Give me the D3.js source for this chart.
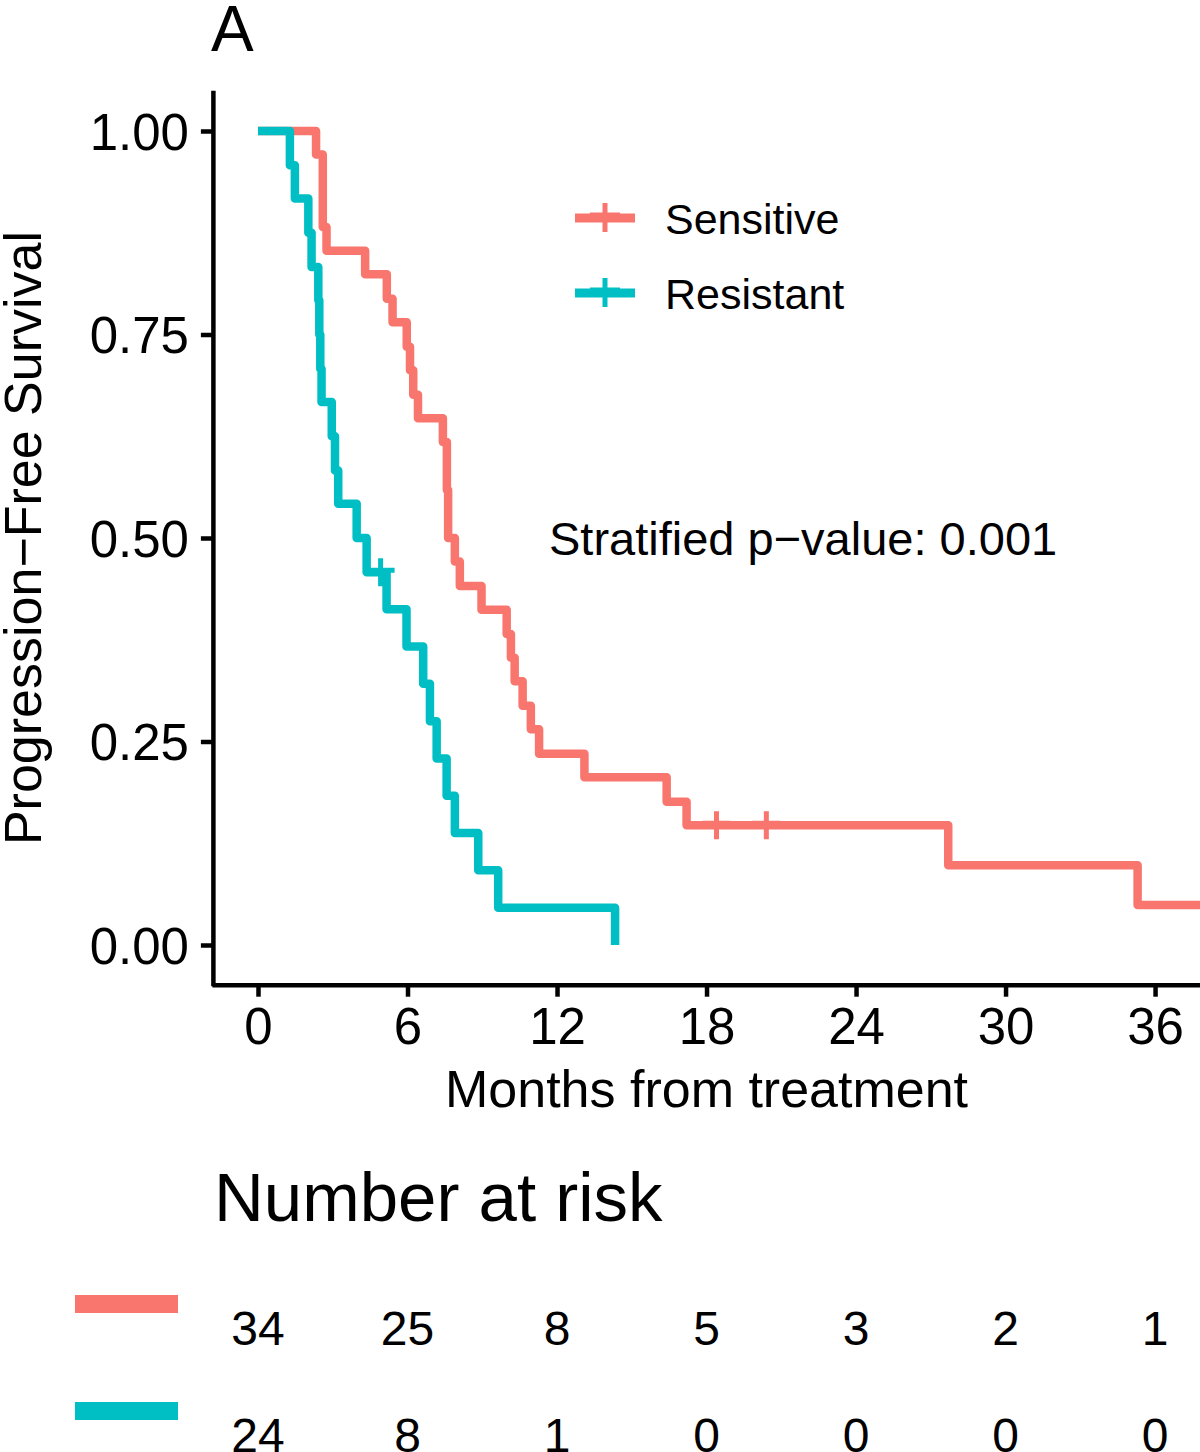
<!DOCTYPE html>
<html>
<head>
<meta charset="utf-8">
<script src="https://cdn.jsdelivr.net/npm/d3@7"></script>
<style>
  html, body { margin: 0; padding: 0; background: #fff; }
  svg { display: block; }
  text { font-family: "Liberation Sans", Arial, Helvetica, sans-serif; fill: #000; }
</style>
</head>
<body>
<svg id="chart" width="1200" height="1452"></svg>
<script>
// ---------------- DATA ----------------
const groups = ["Sensitive", "Resistant"];
const groupColors = ["#F8766D", "#00BFC4"];

// Kaplan–Meier step points (time in months, survival after the step)
const sensitiveTime = [0, 2.33, 2.6, 2.75, 4.3, 5.17, 5.4, 5.97, 6.1, 6.23, 6.42, 7.42, 7.58, 7.63, 7.9, 8.1, 8.97, 9.98, 10.15, 10.3, 10.62, 10.95, 11.28, 13.1, 16.4, 17.2, 27.7, 35.3, 37.9];
const sensitiveSurv = [1.000, 0.971, 0.882, 0.853, 0.824, 0.794, 0.765, 0.735, 0.706, 0.676, 0.647, 0.618, 0.559, 0.500, 0.471, 0.441, 0.412, 0.382, 0.353, 0.324, 0.294, 0.265, 0.235, 0.206, 0.176, 0.147, 0.098, 0.049, 0.049];
const sensitiveCensorTime = [18.4, 20.4];
const sensitiveCensorSurv = [0.147, 0.147];

const resistantTime = [0, 1.28, 1.48, 2.02, 2.15, 2.42, 2.46, 2.5, 2.55, 2.96, 3.09, 3.22, 3.96, 4.36, 5.16, 5.96, 6.63, 6.9, 7.17, 7.57, 7.9, 8.84, 9.64, 14.33];
const resistantSurv = [1.000, 0.958, 0.917, 0.875, 0.833, 0.792, 0.750, 0.708, 0.667, 0.625, 0.583, 0.542, 0.500, 0.458, 0.4125, 0.3667, 0.3208, 0.275, 0.2292, 0.1833, 0.1375, 0.0917, 0.0458, 0.000];
const resistantCensorTime = [4.92];
const resistantCensorSurv = [0.458];

const xTicks = [0, 6, 12, 18, 24, 30, 36];
const yTicks = [0, 0.25, 0.50, 0.75, 1.00];
const riskSensitive = [34, 25, 8, 5, 3, 2, 1];
const riskResistant = [24, 8, 1, 0, 0, 0, 0];

const panelLabel = "A";
const xTitle = "Months from treatment";
const yTitle = "Progression\u2212Free Survival";
const pText = "Stratified p\u2212value: 0.001";
const riskTitle = "Number at risk";

// ---------------- LAYOUT ----------------
const svg = d3.select("#chart");
svg.append("rect").attr("width", 1200).attr("height", 1452).attr("fill", "#fff");

const x = d3.scaleLinear().domain([-1.85, 39.75]).range([211.9, 1248.5]);
const y = d3.scaleLinear().domain([-0.05, 1.05]).range([985.7, 90.3]);

// Axes
const axisW = 4.5;
const gx = svg.append("g").attr("transform", `translate(0,${y(-0.05) - 1})`)
  .call(d3.axisBottom(x).tickValues(xTicks).tickSize(12).tickSizeOuter(0).tickPadding(8));
const gy = svg.append("g").attr("transform", `translate(${x(-1.85) + 1},0)`)
  .call(d3.axisLeft(y).tickValues(yTicks).tickFormat(d3.format(".2f")).tickSize(12).tickSizeOuter(0).tickPadding(12));

[gx, gy].forEach(g => {
  g.select(".domain").attr("stroke", "#000").attr("stroke-width", axisW);
  g.selectAll(".tick line").attr("stroke", "#000").attr("stroke-width", axisW);
  g.selectAll(".tick text").attr("font-size", 51).attr("fill", "#000")
    .attr("font-family", "'Liberation Sans', Arial, sans-serif");
});
gx.selectAll(".tick text").attr("dy", "0.78em");
gy.selectAll(".tick text").attr("dy", "0.36em");

// Curves
const stepLine = d3.line().x(d => x(d[0])).y(d => y(d[1])).curve(d3.curveStepAfter);
const series = [
  { t: sensitiveTime, s: sensitiveSurv, ct: sensitiveCensorTime, cs: sensitiveCensorSurv, color: groupColors[0] },
  { t: resistantTime, s: resistantSurv, ct: resistantCensorTime, cs: resistantCensorSurv, color: groupColors[1] }
];
svg.append("clipPath").attr("id", "pc").append("rect")
  .attr("x", x(-1.85) + 3).attr("y", 60).attr("width", 1200).attr("height", y(-0.05) - 62);
const curves = svg.append("g").attr("clip-path", "url(#pc)");
const plusSize = 14;
series.forEach(sr => {
  const pts = sr.t.map((t, i) => [t, sr.s[i]]);
  curves.append("path").datum(pts)
    .attr("d", stepLine)
    .attr("fill", "none").attr("stroke", sr.color).attr("stroke-width", 8.5)
    .attr("stroke-linejoin", "round");
  const cens = sr.ct.map((t, i) => [t, sr.cs[i]]);
  cens.forEach(c => {
    const cx = x(c[0]), cy = y(c[1]);
    curves.append("path")
      .attr("d", `M${cx - plusSize},${cy - 2}H${cx + plusSize}M${cx},${cy - plusSize}V${cy + plusSize}`)
      .attr("stroke", sr.color).attr("stroke-width", 5).attr("fill", "none");
  });
});

// Legend
const legY = [218, 293];
groups.forEach((g, i) => {
  const ly = legY[i];
  svg.append("line").attr("x1", 575).attr("x2", 635).attr("y1", ly).attr("y2", ly)
    .attr("stroke", groupColors[i]).attr("stroke-width", 9);
  svg.append("path")
    .attr("d", `M590,${ly - 3}H620M605,${ly - 15}V${ly + 14}`)
    .attr("stroke", groupColors[i]).attr("stroke-width", 5).attr("fill", "none");
  svg.append("text").attr("x", 665).attr("y", ly + 16).attr("font-size", 43).text(g);
});

// p-value annotation
svg.append("text").attr("x", 549).attr("y", 555).attr("font-size", 47).text(pText);

// Panel label
svg.append("text").attr("x", 211).attr("y", 51).attr("font-size", 64).text(panelLabel);

// Axis titles
svg.append("text").attr("x", x(18)).attr("y", 1107).attr("text-anchor", "middle")
  .attr("font-size", 52).text(xTitle);
svg.append("text").attr("transform", `translate(41,${y(0.5)}) rotate(-90)`)
  .attr("text-anchor", "middle").attr("font-size", 52).text(yTitle);

// Risk table
svg.append("text").attr("x", 214).attr("y", 1221).attr("font-size", 69).text(riskTitle);
const rowY = [1304, 1411];
[riskSensitive, riskResistant].forEach((row, r) => {
  svg.append("rect").attr("x", 75).attr("y", rowY[r] - 9).attr("width", 103).attr("height", 18)
    .attr("fill", groupColors[r]);
  svg.selectAll(null).data(row).enter().append("text")
    .attr("x", (d, i) => x(xTicks[i]))
    .attr("y", rowY[r] + 41)
    .attr("text-anchor", "middle").attr("font-size", 48)
    .text(d => d);
});
</script>
</body>
</html>
